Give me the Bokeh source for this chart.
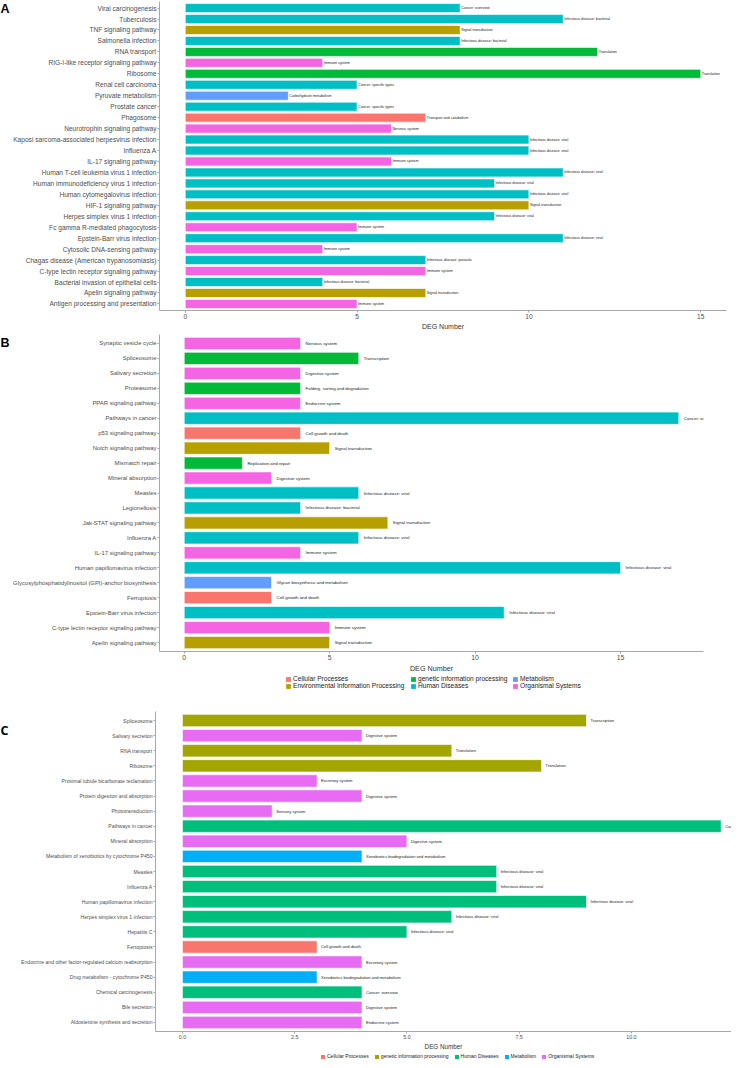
from bokeh.plotting import figure
from bokeh.models import (ColumnDataSource, FactorRange, Range1d, Legend, LegendItem,
                          Label, FixedTicker, NumeralTickFormatter)
from bokeh.layouts import column, row
from bokeh.core.properties import value
from bokeh.embed import file_html
from bokeh.resources import INLINE

# ---------------- data ----------------
A_terms = ["Viral carcinogenesis", "Tuberculosis", "TNF signaling pathway", "Salmonella infection",
           "RNA transport", "RIG-I-like receptor signaling pathway", "Ribosome", "Renal cell carcinoma",
           "Pyruvate metabolism", "Prostate cancer", "Phagosome", "Neurotrophin signaling pathway",
           "Kaposi sarcoma-associated herpesvirus infection", "Influenza A", "IL-17 signaling pathway",
           "Human T-cell leukemia virus 1 infection", "Human immunodeficiency virus 1 infection",
           "Human cytomegalovirus infection", "HIF-1 signaling pathway", "Herpes simplex virus 1 infection",
           "Fc gamma R-mediated phagocytosis", "Epstein-Barr virus infection", "Cytosolic DNA-sensing pathway",
           "Chagas disease (American trypanosomiasis)", "C-type lectin receptor signaling pathway",
           "Bacterial invasion of epithelial cells", "Apelin signaling pathway",
           "Antigen processing and presentation"]
A_values = [8, 11, 8, 8, 12, 4, 15, 5, 3, 5, 7, 6, 10, 10, 6, 11, 9, 10, 10, 9, 5, 11, 4, 7, 7, 4, 7, 5]
A_classes = ["Human Diseases", "Human Diseases", "Environmental Information Processing", "Human Diseases",
             "genetic information processing", "Organismal Systems", "genetic information processing",
             "Human Diseases", "Metabolism", "Human Diseases", "Cellular Processes", "Organismal Systems",
             "Human Diseases", "Human Diseases", "Organismal Systems", "Human Diseases", "Human Diseases",
             "Human Diseases", "Environmental Information Processing", "Human Diseases", "Organismal Systems",
             "Human Diseases", "Organismal Systems", "Human Diseases", "Organismal Systems", "Human Diseases",
             "Environmental Information Processing", "Organismal Systems"]
A_subclasses = ["Cancer: overview", "Infectious disease: bacterial", "Signal transduction",
                "Infectious disease: bacterial", "Translation", "Immune system", "Translation",
                "Cancer: specific types", "Carbohydrate metabolism", "Cancer: specific types",
                "Transport and catabolism", "Nervous system", "Infectious disease: viral",
                "Infectious disease: viral", "Immune system", "Infectious disease: viral",
                "Infectious disease: viral", "Infectious disease: viral", "Signal transduction",
                "Infectious disease: viral", "Immune system", "Infectious disease: viral", "Immune system",
                "Infectious disease: parasitic", "Immune system", "Infectious disease: bacterial",
                "Signal transduction", "Immune system"]

B_terms = ["Synaptic vesicle cycle", "Spliceosome", "Salivary secretion", "Proteasome",
           "PPAR signaling pathway", "Pathways in cancer", "p53 signaling pathway", "Notch signaling pathway",
           "Mismatch repair", "Mineral absorption", "Measles", "Legionellosis", "Jak-STAT signaling pathway",
           "Influenza A", "IL-17 signaling pathway", "Human papillomavirus infection",
           "Glycosylphosphatidylinositol (GPI)-anchor biosynthesis", "Ferroptosis",
           "Epstein-Barr virus infection", "C-type lectin receptor signaling pathway",
           "Apelin signaling pathway"]
B_values = [4, 6, 4, 4, 4, 17, 4, 5, 2, 3, 6, 4, 7, 6, 4, 15, 3, 3, 11, 5, 5]
B_classes = ["Organismal Systems", "genetic information processing", "Organismal Systems",
             "genetic information processing", "Organismal Systems", "Human Diseases", "Cellular Processes",
             "Environmental Information Processing", "genetic information processing", "Organismal Systems",
             "Human Diseases", "Human Diseases", "Environmental Information Processing", "Human Diseases",
             "Organismal Systems", "Human Diseases", "Metabolism", "Cellular Processes", "Human Diseases",
             "Organismal Systems", "Environmental Information Processing"]
B_subclasses = ["Nervous system", "Transcription", "Digestive system", "Folding, sorting and degradation",
                "Endocrine system", "Cancer: overview", "Cell growth and death", "Signal transduction",
                "Replication and repair", "Digestive system", "Infectious disease: viral",
                "Infectious disease: bacterial", "Signal transduction", "Infectious disease: viral",
                "Immune system", "Infectious disease: viral", "Glycan biosynthesis and metabolism",
                "Cell growth and death", "Infectious disease: viral", "Immune system", "Signal transduction"]

C_terms = ["Spliceosome", "Salivary secretion", "RNA transport", "Ribosome",
           "Proximal tubule bicarbonate reclamation", "Protein digestion and absorption", "Phototransduction",
           "Pathways in cancer", "Mineral absorption", "Metabolism of xenobiotics by cytochrome P450",
           "Measles", "Influenza A", "Human papillomavirus infection", "Herpes simplex virus 1 infection",
           "Hepatitis C", "Ferroptosis", "Endocrine and other factor-regulated calcium reabsorption",
           "Drug metabolism - cytochrome P450", "Chemical carcinogenesis", "Bile secretion",
           "Aldosterone synthesis and secretion"]
C_values = [9, 4, 6, 8, 3, 4, 2, 12, 5, 4, 7, 7, 9, 6, 5, 3, 4, 3, 4, 4, 4]
C_classes = ["genetic information processing", "Organismal Systems", "genetic information processing",
             "genetic information processing", "Organismal Systems", "Organismal Systems", "Organismal Systems",
             "Human Diseases", "Organismal Systems", "Metabolism", "Human Diseases", "Human Diseases",
             "Human Diseases", "Human Diseases", "Human Diseases", "Cellular Processes", "Organismal Systems",
             "Metabolism", "Human Diseases", "Organismal Systems", "Organismal Systems"]
C_subclasses = ["Transcription", "Digestive system", "Translation", "Translation", "Excretory system",
                "Digestive system", "Sensory system", "Cancer: overview", "Digestive system",
                "Xenobiotics biodegradation and metabolism", "Infectious disease: viral",
                "Infectious disease: viral", "Infectious disease: viral", "Infectious disease: viral",
                "Infectious disease: viral", "Cell growth and death", "Excretory system",
                "Xenobiotics biodegradation and metabolism", "Cancer: overview", "Digestive system",
                "Endocrine system"]

AB_categories = ["Cellular Processes", "Environmental Information Processing", "genetic information processing",
                 "Human Diseases", "Metabolism", "Organismal Systems"]
AB_colors = ["#F8766D", "#B79F00", "#00BA38", "#00BFC4", "#619CFF", "#F564E3"]
C_categories = ["Cellular Processes", "genetic information processing", "Human Diseases", "Metabolism",
                "Organismal Systems"]
C_colors = ["#F8766D", "#A3A500", "#00BF7D", "#00B0F6", "#E76BF3"]

A_ticks = [0, 5, 10, 15]
B_ticks = [0, 5, 10, 15]
C_ticks = [0, 2.5, 5, 7.5, 10]

SANS = "Liberation Sans"
AXIS_COL = "#A8A8A8"
STRIP = 10


def letter_strip(text, height, top_off, font=SANS):
    p = figure(width=STRIP, height=height, output_backend="svg", toolbar_location=None,
               x_axis_type=None, y_axis_type=None, x_range=Range1d(0, STRIP), y_range=Range1d(0, height),
               min_border=0)
    p.outline_line_color = None
    p.add_layout(Label(x=0, y=height - top_off, text=text, text_font=font, text_font_style="bold",
                       text_font_size="12.5px", text_color="black", text_baseline="top", text_align="left"))
    return p


def panel(terms, vals, classes, subs, cats, colors, xr, ticks, frame, borders,
          ylab_size, val_size, val_off, tick_size, title_size, fmt=None):
    left, right, top, bottom = borders
    fw, fh = frame
    p = figure(frame_width=fw, frame_height=fh, output_backend="svg", toolbar_location=None,
               y_range=FactorRange(factors=terms[::-1], range_padding=0.1, range_padding_units="absolute"),
               x_range=Range1d(*xr), min_border_left=left, min_border_right=right,
               min_border_top=top, min_border_bottom=bottom)
    p.outline_line_color = None
    p.xgrid.visible = False
    p.ygrid.visible = False
    for cat, col in zip(cats, colors):
        idx = [i for i, c in enumerate(classes) if c == cat]
        if not idx:
            continue
        src = ColumnDataSource(dict(term=[terms[i] for i in idx], v=[vals[i] for i in idx],
                                    sub=[subs[i] for i in idx]))
        p.hbar(y="term", left=0, right="v", height=0.82, source=src, fill_color=col,
               line_color="white", line_width=0.8, line_alpha=0.8)
        p.text(x="v", y="term", text="sub", source=src, text_font_size=val_size,
               text_font=value(SANS), text_baseline="middle", text_align="left",
               x_offset=val_off, text_color="#1a1a1a")
    for ax in (p.xaxis[0], p.yaxis[0]):
        ax.axis_line_color = AXIS_COL
        ax.major_tick_line_color = AXIS_COL
        ax.minor_tick_line_color = None
        ax.major_tick_in = 0
        ax.major_tick_out = 2
        ax.major_label_standoff = 1
    p.yaxis.major_label_text_font = SANS
    p.yaxis.major_label_text_font_size = ylab_size
    p.yaxis.major_label_text_color = "#4D4D4D"
    p.xaxis.ticker = FixedTicker(ticks=ticks)
    if fmt:
        p.xaxis.formatter = NumeralTickFormatter(format=fmt)
    p.xaxis.major_label_text_font = SANS
    p.xaxis.major_label_text_font_size = tick_size
    p.xaxis.major_label_text_color = "#4D4D4D"
    p.xaxis.axis_label = "DEG Number"
    p.xaxis.axis_label_text_font = SANS
    p.xaxis.axis_label_text_font_style = "normal"
    p.xaxis.axis_label_text_font_size = title_size
    p.xaxis.axis_label_text_color = "#333333"
    p.xaxis.axis_label_standoff = 1
    return p


def legend_strip(cats, colors, height, groups, font_size, glyph, spacing, orientation):
    """groups: list of (list of category indices, (x, y) screen location)"""
    p = figure(width=731, height=height, output_backend="svg", toolbar_location=None,
               x_axis_type=None, y_axis_type=None, x_range=Range1d(0, 1), y_range=Range1d(0, 1),
               min_border=0)
    p.outline_line_color = None
    rends = []
    for cat, col in zip(cats, colors):
        src = ColumnDataSource(dict(y=[5], r=[5]))   # outside the visible range; swatch source only
        rends.append(p.hbar(y="y", left=4, right="r", height=0.5, source=src, fill_color=col, line_color=None))
    for idxs, loc in groups:
        items = [LegendItem(label=cats[i], renderers=[rends[i]]) for i in idxs]
        leg = Legend(items=items, location=loc, orientation=orientation, label_text_font=SANS,
                     label_text_font_size=font_size, label_text_color="#222222", glyph_width=glyph,
                     glyph_height=glyph, label_height=glyph, label_standoff=2, spacing=spacing,
                     padding=0, margin=0, border_line_color=None, background_fill_alpha=0)
        p.add_layout(leg, "center")
    return p


# Panel A  (page: frame x 166..733, y 9..318)
pA = panel(A_terms, A_values, A_classes, A_subclasses, AB_categories, AB_colors,
           (-0.75, 15.75), A_ticks, (567, 309), (148, 6, 1, 20),
           "6.6px", "3.7px", 1, "6.5px", "7px")
rowA = row(letter_strip("A", 330, 1), pA)

# Panel B  (page: frame x 165..709, y 340..657)
pB = panel(B_terms, B_values, B_classes, B_subclasses, AB_categories, AB_colors,
           (-0.85, 17.85), B_ticks, (544, 317), (147, 30, 2, 21),
           "5.9px", "4.4px", 5, "6.8px", "7.2px")
rowB = row(letter_strip("B", 340, 2), pB)
legB = legend_strip(AB_categories, AB_colors, 15,
                    [([0, 1], (285, 1)), ([2, 3], (410, 1)), ([4, 5], (512, 1))],
                    "6.6px", 6, 0, "vertical")

# Panel C  (page: frame x 163..739, y 714..1034)
pC = panel(C_terms, C_values, C_classes, C_subclasses, C_categories, C_colors,
           (-0.6, 12.23), C_ticks, (576, 320), (145, 0, 21, 18),
           "5.1px", "4.1px", 4, "5.3px", "6.3px", fmt="0.0")
rowC = row(letter_strip("C", 359, 12, "Open Sans"), pC)
legC = legend_strip(C_categories, C_colors, 8, [([0, 1, 2, 3, 4], (320, 1))],
                    "5.0px", 5, 5, "horizontal")

layout = column(rowA, rowB, legB, rowC, legC, spacing=0)
open("out.html", "w").write(file_html(layout, INLINE))
